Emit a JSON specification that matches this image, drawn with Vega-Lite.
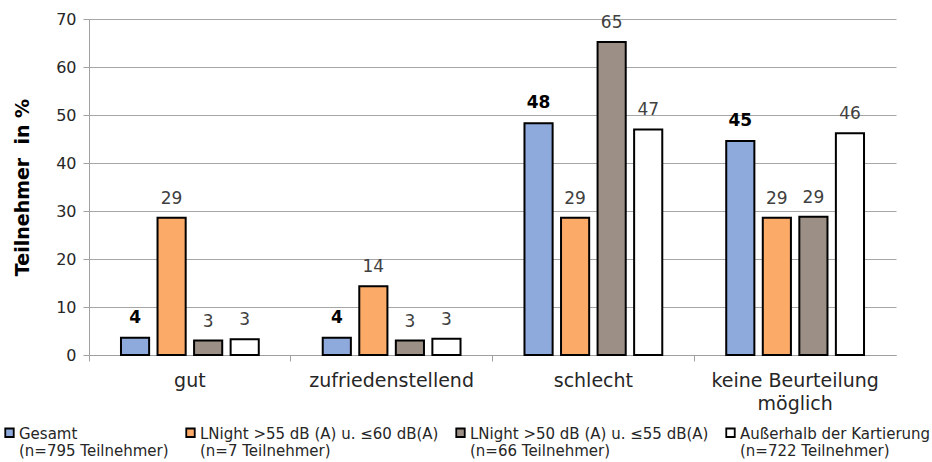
{
  "$schema": "https://vega.github.io/schema/vega-lite/v6.json",
  "width": 807,
  "height": 336,
  "autosize": {"type": "none"},
  "padding": {"left": 89, "top": 19, "right": 36, "bottom": 107},
  "background": "white",
  "config": {
    "font": "DejaVu Sans",
    "view": {"stroke": null}
  },
  "data": {
    "values": [
      {"kat": "gut", "serie": "Gesamt", "wert": 3.6},
      {"kat": "gut", "serie": "LNight >55 dB (A) u. ≤60 dB(A)", "wert": 28.6},
      {"kat": "gut", "serie": "LNight >50 dB (A) u. ≤55 dB(A)", "wert": 3.0},
      {"kat": "gut", "serie": "Außerhalb der Kartierung", "wert": 3.3},
      {"kat": "zufriedenstellend", "serie": "Gesamt", "wert": 3.6},
      {"kat": "zufriedenstellend", "serie": "LNight >55 dB (A) u. ≤60 dB(A)", "wert": 14.3},
      {"kat": "zufriedenstellend", "serie": "LNight >50 dB (A) u. ≤55 dB(A)", "wert": 3.0},
      {"kat": "zufriedenstellend", "serie": "Außerhalb der Kartierung", "wert": 3.4},
      {"kat": "schlecht", "serie": "Gesamt", "wert": 48.3},
      {"kat": "schlecht", "serie": "LNight >55 dB (A) u. ≤60 dB(A)", "wert": 28.6},
      {"kat": "schlecht", "serie": "LNight >50 dB (A) u. ≤55 dB(A)", "wert": 65.2},
      {"kat": "schlecht", "serie": "Außerhalb der Kartierung", "wert": 47.0},
      {"kat": "keine Beurteilung möglich", "serie": "Gesamt", "wert": 44.6},
      {"kat": "keine Beurteilung möglich", "serie": "LNight >55 dB (A) u. ≤60 dB(A)", "wert": 28.6},
      {"kat": "keine Beurteilung möglich", "serie": "LNight >50 dB (A) u. ≤55 dB(A)", "wert": 28.8},
      {"kat": "keine Beurteilung möglich", "serie": "Außerhalb der Kartierung", "wert": 46.2}
    ]
  },
  "encoding": {
    "x": {
      "field": "kat", "type": "nominal",
      "sort": ["gut", "zufriedenstellend", "schlecht", "keine Beurteilung möglich"],
      "scale": {"paddingInner": 0, "paddingOuter": 0},
      "axis": {
        "title": null, "labelAngle": 0, "bandPosition": 0,
        "labelFontSize": 19, "labelColor": "#262626", "labelPadding": 10,
        "labelExpr": "datum.label == 'keine Beurteilung möglich' ? ['keine Beurteilung', 'möglich'] : datum.label",
        "labelLineHeight": 23,
        "domainColor": "#A0A0A0", "tickColor": "#A0A0A0", "tickSize": 6,
        "grid": false
      }
    },
    "xOffset": {
      "field": "serie", "type": "nominal",
      "sort": ["Gesamt", "LNight >55 dB (A) u. ≤60 dB(A)", "LNight >50 dB (A) u. ≤55 dB(A)", "Außerhalb der Kartierung"],
      "scale": {"paddingInner": 0.23, "paddingOuter": 0.875}
    },
    "y": {
      "field": "wert", "type": "quantitative",
      "scale": {"domain": [0, 70]},
      "axis": {
        "title": "Teilnehmer\u00a0\u00a0in %", "titleFontSize": 19, "titleFontWeight": "bold",
        "titleColor": "#000000", "titlePadding": 23,
        "values": [0, 10, 20, 30, 40, 50, 60, 70],
        "labelFontSize": 16, "labelColor": "#262626", "labelPadding": 7,
        "domainColor": "#A0A0A0", "tickColor": "#A0A0A0", "tickSize": 6,
        "gridColor": "#A6A6A6", "gridWidth": 1
      }
    }
  },
  "layer": [
    {
      "mark": {"type": "bar", "stroke": "#000000", "strokeWidth": 2},
      "encoding": {
        "color": {
          "field": "serie", "type": "nominal",
          "sort": ["Gesamt", "LNight >55 dB (A) u. ≤60 dB(A)", "LNight >50 dB (A) u. ≤55 dB(A)", "Außerhalb der Kartierung"],
          "scale": {
            "domain": ["Gesamt", "LNight >55 dB (A) u. ≤60 dB(A)", "LNight >50 dB (A) u. ≤55 dB(A)", "Außerhalb der Kartierung"],
            "range": ["#8EA9DB", "#FBAA68", "#9C9086", "#FFFFFF"]
          },
          "legend": {
            "title": null, "orient": "none", "direction": "horizontal",
            "legendX": -87, "legendY": 406,
            "symbolType": "square", "symbolSize": 72,
            "symbolStrokeColor": "#000000", "symbolStrokeWidth": 1.8,
            "symbolOpacity": 1,
            "labelFontSize": 15, "labelColor": "#262626", "labelLimit": 400,
            "labelOffset": 2, "labelBaseline": "middle", "labelLineHeight": 19,
            "columnPadding": 13,
            "encode": {"labels": {"update": {"dy": {"value": 1}}}},
            "labelExpr": "datum.label == 'Gesamt' ? ['Gesamt', '(n=795 Teilnehmer)'] : datum.label == 'Außerhalb der Kartierung' ? ['Außerhalb der Kartierung', '(n=722 Teilnehmer)'] : datum.label == 'LNight >55 dB (A) u. ≤60 dB(A)' ? [datum.label, '(n=7 Teilnehmer)'] : [datum.label, '(n=66 Teilnehmer)']"
          }
        }
      }
    },
    {
      "transform": [{"filter": "datum.serie == 'Gesamt'"}],
      "mark": {"type": "text", "baseline": "alphabetic", "dy": -15, "fontSize": 17, "fontWeight": "bold", "color": "#000000"},
      "encoding": {"text": {"field": "wert", "type": "quantitative", "format": ".0f"}}
    },
    {
      "transform": [{"filter": "datum.serie != 'Gesamt'"}],
      "mark": {"type": "text", "baseline": "alphabetic", "dy": -14, "fontSize": 17, "color": "#404040"},
      "encoding": {"text": {"field": "wert", "type": "quantitative", "format": ".0f"}}
    }
  ]
}
